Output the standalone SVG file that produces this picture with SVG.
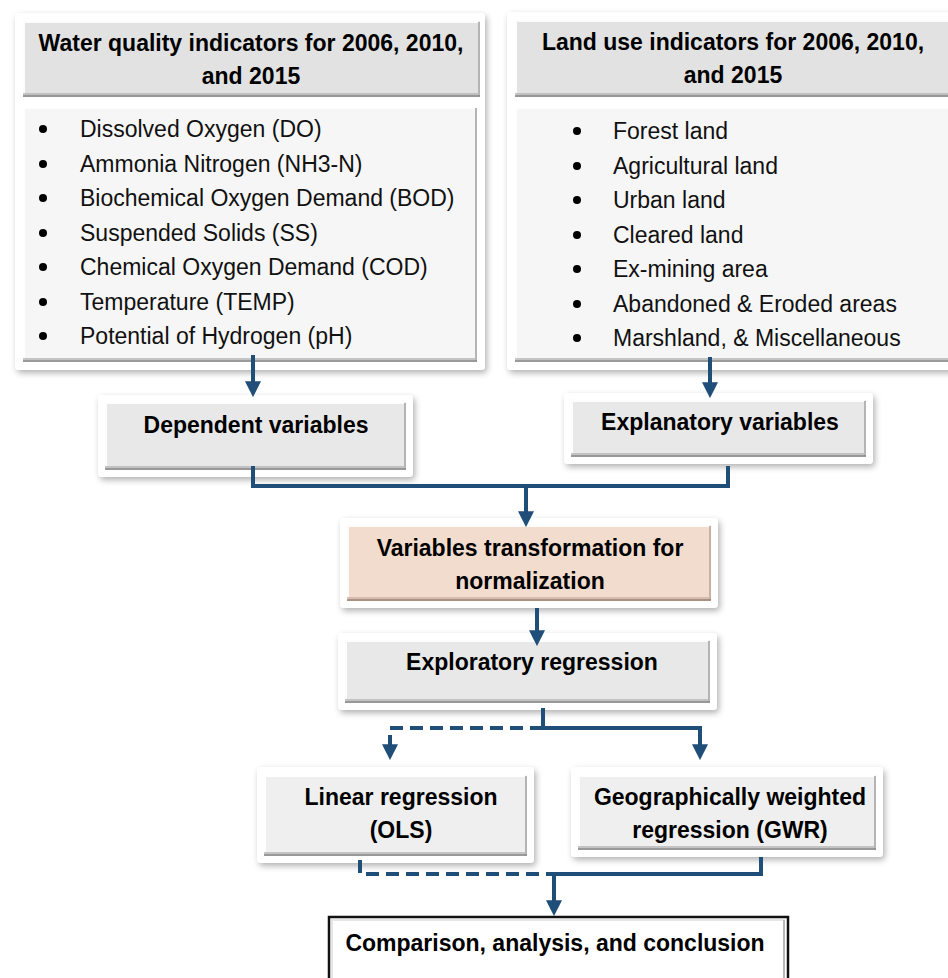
<svg xmlns="http://www.w3.org/2000/svg" width="948" height="978" viewBox="0 0 948 978">
<defs>
<filter id="sh" x="-10%" y="-10%" width="120%" height="125%">
<feDropShadow dx="2" dy="3" stdDeviation="3" flood-color="#000" flood-opacity="0.3"/>
</filter>
<marker id="ah" markerUnits="userSpaceOnUse" markerWidth="16" markerHeight="16" viewBox="0 0 14 14" refX="6" refY="7" orient="auto">
<path d="M0,0 L14,7 L0,14 z" fill="#1f4e79"/>
</marker>
</defs>
<style>
.frame{fill:#fff;filter:url(#sh)}
.hl{stroke:#fff;stroke-width:2;fill:none;opacity:.9}
.dk{stroke:#8a8a8a;stroke-width:2;fill:none;opacity:.85}
.dk2{stroke:#b8b8b8;stroke-width:2;fill:none;opacity:.8}
.dkr{stroke:#b4b4b4;stroke-width:2;fill:none}
.conn{stroke:#1f4e79;stroke-width:4;fill:none}
.dash{stroke-dasharray:13 7}
.b{font-family:"Liberation Sans",Arial,sans-serif;font-weight:bold;font-size:23px;text-anchor:middle;fill:#000}
.r{font-family:"Liberation Sans",Arial,sans-serif;font-size:23px;fill:#111}
.dot{fill:#000}
</style>
<rect width="948" height="978" fill="#fff"/>

<g id="water-quality">
<rect class="frame" x="15" y="13" width="470" height="357" rx="4"/>
<rect x="23" y="21" width="457" height="76" fill="#e2e2e2"/>
<path class="hl" d="M24,96 V22 H479"/><path class="dkr" d="M479,22 V96"/><path class="dk2" d="M23,94 H480"/><path class="dk" d="M23,96 H480"/>
<rect x="23" y="107" width="454" height="255" fill="#f6f6f6"/>
<path class="hl" d="M24,361 V108 H476"/><path class="dkr" d="M476,108 V361"/><path class="dk2" d="M23,359 H477"/><path class="dk" d="M23,361 H477"/>
<text class="b" x="251" y="51">Water quality indicators for 2006, 2010,</text>
<text class="b" x="251" y="84">and 2015</text>
<circle class="dot" cx="43" cy="129" r="4"/><text class="r" x="80" y="137">Dissolved Oxygen (DO)</text>
<circle class="dot" cx="43" cy="164" r="4"/><text class="r" x="80" y="172">Ammonia Nitrogen (NH3-N)</text>
<circle class="dot" cx="43" cy="198" r="4"/><text class="r" x="80" y="206">Biochemical Oxygen Demand (BOD)</text>
<circle class="dot" cx="43" cy="233" r="4"/><text class="r" x="80" y="241">Suspended Solids (SS)</text>
<circle class="dot" cx="43" cy="267" r="4"/><text class="r" x="80" y="275">Chemical Oxygen Demand (COD)</text>
<circle class="dot" cx="43" cy="302" r="4"/><text class="r" x="80" y="310">Temperature (TEMP)</text>
<circle class="dot" cx="43" cy="336" r="4"/><text class="r" x="80" y="344">Potential of Hydrogen (pH)</text>
</g>

<g id="land-use">
<rect class="frame" x="507" y="12" width="455" height="358" rx="4"/>
<rect x="515" y="20" width="437" height="77" fill="#e2e2e2"/>
<path class="hl" d="M516,96 V21 H951"/><path class="dk2" d="M515,94 H952"/><path class="dk" d="M515,96 H952"/>
<rect x="515" y="107" width="437" height="255" fill="#f6f6f6"/>
<path class="hl" d="M516,361 V108 H951"/><path class="dk2" d="M515,359 H952"/><path class="dk" d="M515,361 H952"/>
<text class="b" x="733" y="50">Land use indicators for 2006, 2010,</text>
<text class="b" x="733" y="83">and 2015</text>
<circle class="dot" cx="577" cy="131" r="4"/><text class="r" x="613" y="139">Forest land</text>
<circle class="dot" cx="577" cy="166" r="4"/><text class="r" x="613" y="174">Agricultural land</text>
<circle class="dot" cx="577" cy="200" r="4"/><text class="r" x="613" y="208">Urban land</text>
<circle class="dot" cx="577" cy="235" r="4"/><text class="r" x="613" y="243">Cleared land</text>
<circle class="dot" cx="577" cy="269" r="4"/><text class="r" x="613" y="277">Ex-mining area</text>
<circle class="dot" cx="577" cy="304" r="4"/><text class="r" x="613" y="312">Abandoned &amp; Eroded areas</text>
<circle class="dot" cx="577" cy="338" r="4"/><text class="r" x="613" y="346">Marshland, &amp; Miscellaneous</text>
</g>

<g id="dependent">
<rect class="frame" x="98" y="395" width="315" height="82" rx="4"/>
<rect x="105" y="402" width="301" height="68" fill="#e8e8e8"/>
<path class="hl" d="M106,469 V403 H405"/><path class="dkr" d="M405,403 V469"/><path class="dk2" d="M105,467 H406"/><path class="dk" d="M105,469 H406"/>
<text class="b" x="256" y="433">Dependent variables</text>
</g>

<g id="explanatory">
<rect class="frame" x="564" y="393" width="309" height="71" rx="4"/>
<rect x="571" y="400" width="295" height="57" fill="#e8e8e8"/>
<path class="hl" d="M572,456 V401 H865"/><path class="dkr" d="M865,401 V456"/><path class="dk2" d="M571,454 H866"/><path class="dk" d="M571,456 H866"/>
<text class="b" x="720" y="430">Explanatory variables</text>
</g>

<g id="transformation">
<rect class="frame" x="340" y="518" width="378" height="90" rx="4"/>
<rect x="347" y="525" width="364" height="76" fill="#f2dccd"/>
<path class="hl" d="M348,600 V526 H710"/><path class="dkr" d="M710,526 V600" style="stroke:#c9b0a1"/><path class="dk2" d="M347,598 H711" style="stroke:#cdb4a5"/><path class="dk" d="M347,600 H711" style="stroke:#9c8577"/>
<text class="b" x="530" y="556">Variables transformation for</text>
<text class="b" x="530" y="589">normalization</text>
</g>

<g id="exploratory">
<rect class="frame" x="338" y="633" width="379" height="77" rx="4"/>
<rect x="345" y="640" width="365" height="63" fill="#e8e8e8"/>
<path class="hl" d="M346,702 V641 H709"/><path class="dkr" d="M709,641 V702"/><path class="dk2" d="M345,700 H710"/><path class="dk" d="M345,702 H710"/>
<text class="b" x="532" y="670">Exploratory regression</text>
</g>

<g id="linear">
<rect class="frame" x="257" y="767" width="277" height="96" rx="4"/>
<rect x="264" y="775" width="263" height="81" fill="#efefef"/>
<path class="hl" d="M265,855 V776 H526"/><path class="dkr" d="M526,776 V855"/><path class="dk2" d="M264,853 H527"/><path class="dk" d="M264,855 H527"/>
<text class="b" x="401" y="805">Linear regression</text>
<text class="b" x="401" y="838">(OLS)</text>
</g>

<g id="gwr">
<rect class="frame" x="571" y="767" width="312" height="90" rx="4"/>
<rect x="578" y="775" width="298" height="75" fill="#efefef"/>
<path class="hl" d="M579,849 V776 H875"/><path class="dkr" d="M875,776 V849"/><path class="dk2" d="M578,847 H876"/><path class="dk" d="M578,849 H876"/>
<text class="b" x="730" y="805">Geographically weighted</text>
<text class="b" x="730" y="838">regression (GWR)</text>
</g>

<g id="comparison">
<rect x="329" y="917" width="459" height="72" fill="#fff" stroke="#111" stroke-width="2.5"/>
<path d="M332,986 V920 H785" fill="none" stroke="#e6e6e6" stroke-width="2"/>
<path d="M784,920 V986" fill="none" stroke="#b8b8b8" stroke-width="2"/>
<text class="b" x="555" y="951">Comparison, analysis, and conclusion</text>
</g>

<g id="connectors">
<path class="conn" d="M253,355 V388" marker-end="url(#ah)"/>
<path class="conn" d="M710,357 V389" marker-end="url(#ah)"/>
<path class="conn" d="M253,466 V486 H728 V466"/>
<path class="conn" d="M526,486 V518" marker-end="url(#ah)"/>
<path class="conn" d="M537,608 V637" marker-end="url(#ah)"/>
<path class="conn" d="M543,708 V728"/>
<path class="conn dash" d="M543,728 H390 V751" marker-end="url(#ah)"/>
<path class="conn" d="M543,728 H700 V751" marker-end="url(#ah)"/>
<path class="conn dash" d="M360,860 V874 H554"/>
<path class="conn" d="M554,874 H761 V857"/>
<path class="conn" d="M554,874 V907" marker-end="url(#ah)"/>
</g>
</svg>
